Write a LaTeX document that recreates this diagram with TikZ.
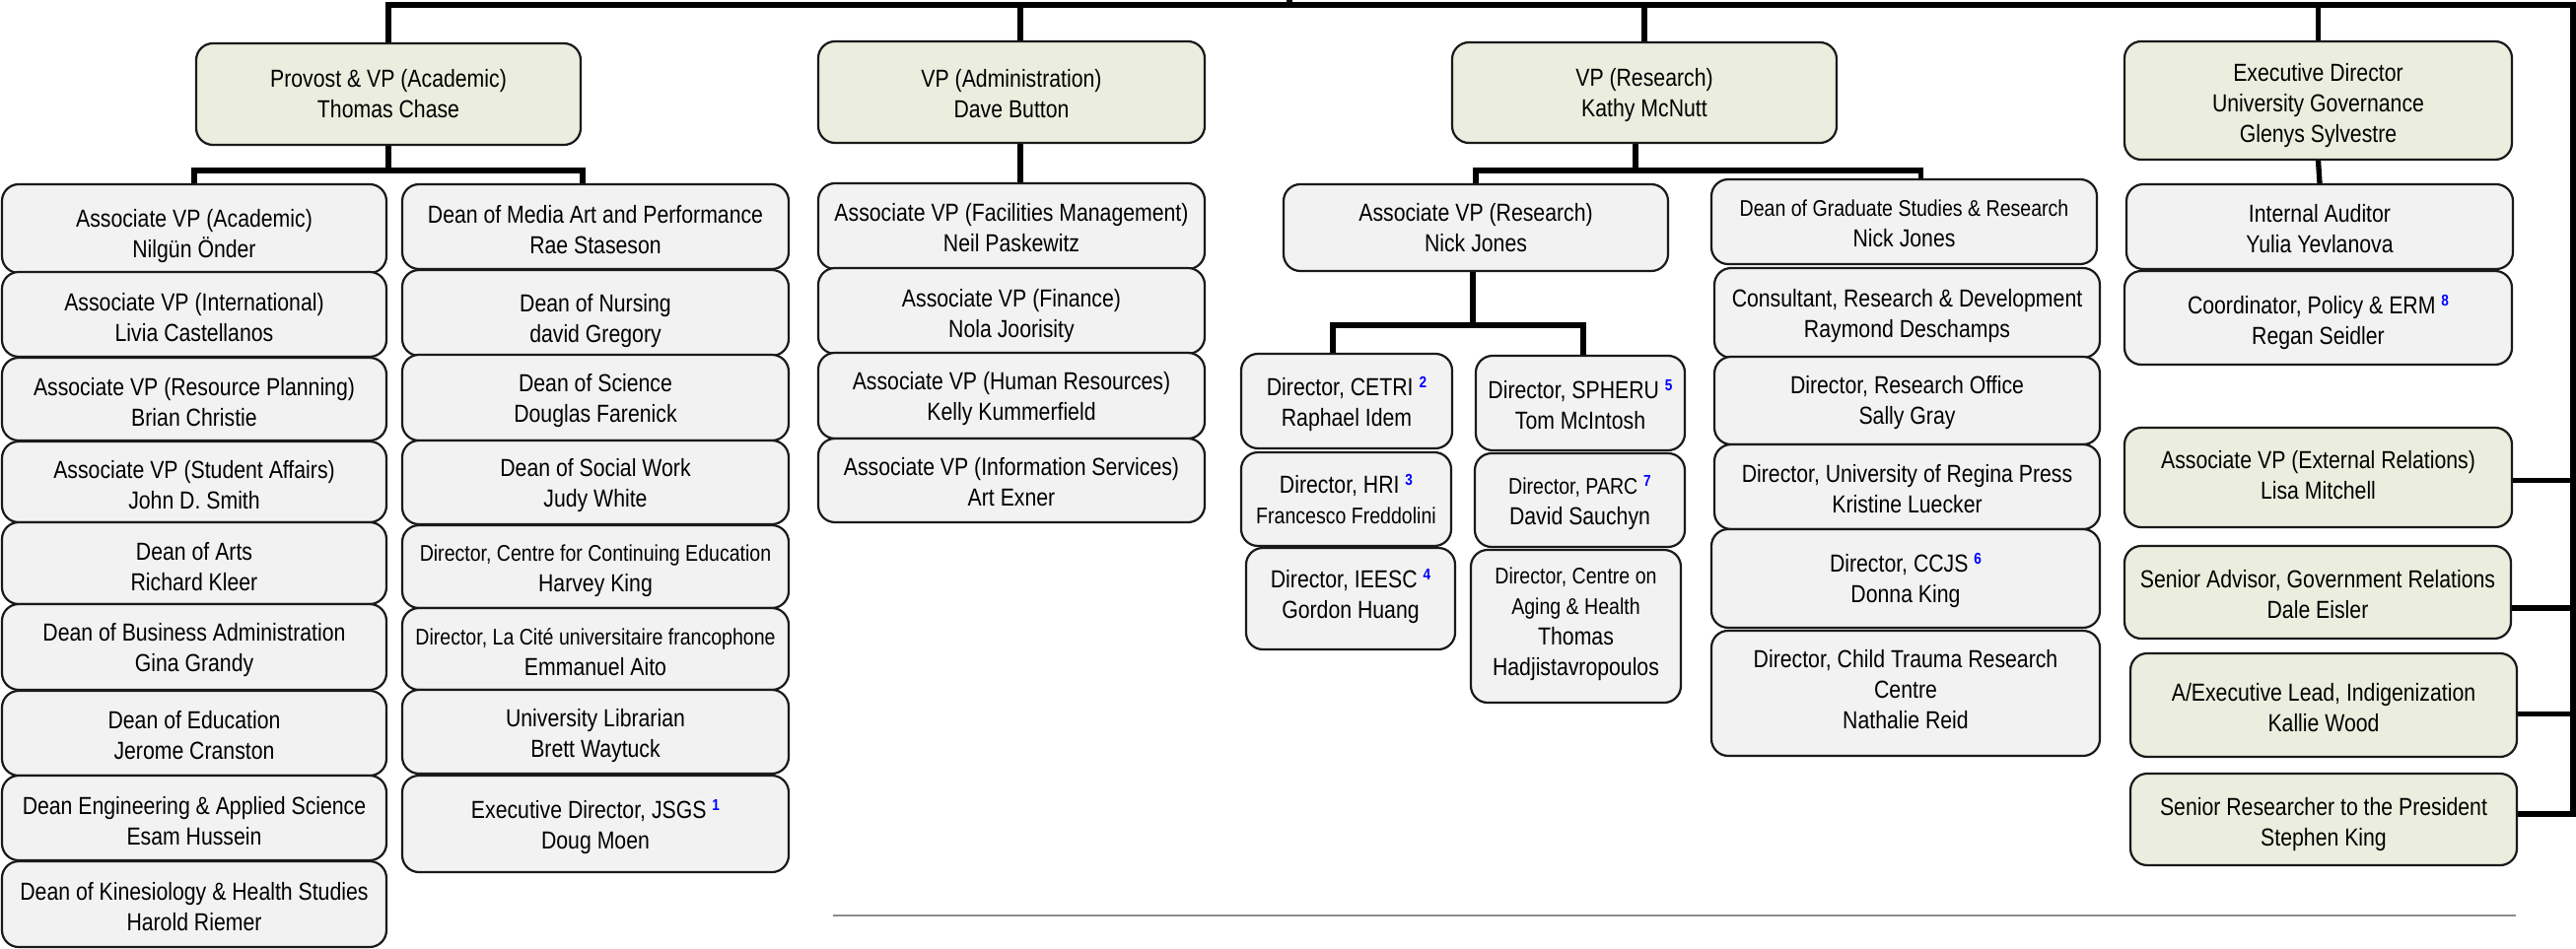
\documentclass[tikz,border=0pt]{standalone}
\usepackage{fontspec}
\setmainfont{Liberation Sans}[FakeStretch=0.85]
\usetikzlibrary{calc}
\definecolor{vpgreen}{HTML}{EBEEDE}
\definecolor{boxgray}{HTML}{F2F2F2}
\definecolor{fnblue}{HTML}{0000FF}
\definecolor{edgecol}{HTML}{1A1A1A}
\newcommand\fn[1]{\raisebox{8pt}{\fontsize{16}{16}\selectfont\bfseries\color{fnblue}#1}}
\newcommand\sm{\fontsize{23}{29}\selectfont}
% name, x1, y1, x2, y2, style, text shift down, text
\newcommand\orgbox[8]{%
  \pgfmathsetmacro\obw{#4-#2}%
  \pgfmathsetmacro\obh{#5-#3}%
  \pgfmathsetmacro\obx{(#2+#4)/2}%
  \pgfmathsetmacro\oby{(#3+#5)/2}%
  \node[#6, minimum width=\obw pt, minimum height=\obh pt] (#1) at (\obx,\oby) {};
  \node[boxtext] (#1-t) at ([yshift=-#7pt]#1.center) {#8};}
\begin{document}
\begin{tikzpicture}[x=1pt,y=-1pt,
  orgnode/.style={draw=edgecol, line width=2.2pt, rounded corners=17pt, inner sep=0pt},
  boxtext/.style={inner sep=0pt, align=center, font=\fontsize{25}{31}\selectfont, text=black},
  vpbox/.style={orgnode, fill=vpgreen},
  subbox/.style={orgnode, fill=boxgray},
  conn/.style={line width=5.3pt, draw=black},
  divider/.style={line width=1.5pt, draw=black!45}]
\useasboundingbox (0,0) rectangle (2613,963);

% top level
\orgbox{provost}{199}{44}{589}{147}{vpbox}{0}{Provost \& VP (Academic)\\Thomas Chase}
\orgbox{vpadmin}{830}{42}{1222}{145}{vpbox}{2}{VP (Administration)\\Dave Button}
\orgbox{vpres}{1473}{43}{1863}{145}{vpbox}{3}{VP (Research)\\Kathy McNutt}
\orgbox{execgov}{2155}{42}{2548}{162}{vpbox}{5}{Executive Director\\University Governance\\Glenys Sylvestre}

% column A
\orgbox{a1}{2}{187}{392}{277}{subbox}{8}{Associate VP (Academic)\\Nilgün Önder}
\orgbox{a2}{2}{276}{392}{362}{subbox}{3}{Associate VP (International)\\Livia Castellanos}
\orgbox{a3}{2}{363}{392}{447}{subbox}{3}{Associate VP (Resource Planning)\\Brian Christie}
\orgbox{a4}{2}{448}{392}{530}{subbox}{3}{Associate VP (Student Affairs)\\John D. Smith}
\orgbox{a5}{2}{530}{392}{613}{subbox}{4}{Dean of Arts\\Richard Kleer}
\orgbox{a6}{2}{613}{392}{700}{subbox}{3}{Dean of Business Administration\\Gina Grandy}
\orgbox{a7}{2}{701}{392}{787}{subbox}{2}{Dean of Education\\Jerome Cranston}
\orgbox{a8}{2}{787}{392}{873}{subbox}{3}{Dean Engineering \& Applied Science\\Esam Hussein}
\orgbox{a9}{2}{874}{392}{961}{subbox}{3}{Dean of Kinesiology \& Health Studies\\Harold Riemer}

% column B
\orgbox{b1}{408}{187}{800}{273}{subbox}{3}{Dean of Media Art and Performance\\Rae Staseson}
\orgbox{b2}{408}{274}{800}{361}{subbox}{8}{Dean of Nursing\\david Gregory}
\orgbox{b3}{408}{360}{800}{447}{subbox}{3}{Dean of Science\\Douglas Farenick}
\orgbox{b4}{408}{447}{800}{532}{subbox}{3}{Dean of Social Work\\Judy White}
\orgbox{b5}{408}{533}{800}{617}{subbox}{4}{{\sm Director, Centre for Continuing Education}\\Harvey King}
\orgbox{b6}{408}{617}{800}{700}{subbox}{3}{{\sm Director, La Cité universitaire francophone}\\Emmanuel Aito}
\orgbox{b7}{408}{700}{800}{785}{subbox}{4}{University Librarian\\Brett Waytuck}
\orgbox{b8}{408}{787}{800}{885}{subbox}{3}{Executive Director, JSGS \fn{1}\\Doug Moen}

% administration
\orgbox{c1}{830}{186}{1222}{273}{subbox}{2}{Associate VP (Facilities Management)\\Neil Paskewitz}
\orgbox{c2}{830}{272}{1222}{359}{subbox}{5}{Associate VP (Finance)\\Nola Joorisity}
\orgbox{c3}{830}{358}{1222}{445}{subbox}{3}{Associate VP (Human Resources)\\Kelly Kummerfield}
\orgbox{c4}{830}{445}{1222}{530}{subbox}{2}{Associate VP (Information Services)\\Art Exner}

% research
\orgbox{avpr}{1302}{187}{1692}{275}{subbox}{0}{Associate VP (Research)\\Nick Jones}
\orgbox{cetri}{1259}{359}{1473}{455}{subbox}{3}{Director, CETRI \fn{2}\\Raphael Idem}
\orgbox{hri}{1259}{459}{1472}{554}{subbox}{0}{Director, HRI \fn{3}\\{\sm Francesco Freddolini}}
\orgbox{ieesc}{1264}{556}{1476}{659}{subbox}{-2}{Director, IEESC \fn{4}\\Gordon Huang}
\orgbox{spheru}{1497}{361}{1709}{457}{subbox}{2}{Director, SPHERU \fn{5}\\Tom McIntosh}
\orgbox{parc}{1496}{460}{1709}{555}{subbox}{3}{{\sm Director, PARC} \fn{7}\\David Sauchyn}
\orgbox{aging}{1492}{558}{1705}{713}{subbox}{-2}{{\sm Director, Centre on}\\{\sm Aging \& Health}\\Thomas\\Hadjistavropoulos}
\orgbox{dgs}{1736}{182}{2127}{268}{subbox}{2}{{\sm Dean of Graduate Studies \& Research}\\Nick Jones}
\orgbox{cons}{1739}{272}{2130}{363}{subbox}{3}{Consultant, Research \& Development\\Raymond Deschamps}
\orgbox{ro}{1739}{362}{2130}{451}{subbox}{2}{Director, Research Office\\Sally Gray}
\orgbox{press}{1739}{451}{2130}{537}{subbox}{2}{Director, University of Regina Press\\Kristine Luecker}
\orgbox{ccjs}{1736}{537}{2130}{637}{subbox}{2}{Director, CCJS \fn{6}\\Donna King}
\orgbox{ctrc}{1736}{640}{2130}{767}{subbox}{-4}{Director, Child Trauma Research\\Centre\\Nathalie Reid}

% governance / president's office
\orgbox{audit}{2157}{187}{2549}{273}{subbox}{2}{Internal Auditor\\Yulia Yevlanova}
\orgbox{coord}{2155}{275}{2548}{370}{subbox}{5}{Coordinator, Policy \& ERM \fn{8}\\Regan Seidler}
\orgbox{lisa}{2155}{434}{2548}{535}{vpbox}{-2}{Associate VP (External Relations)\\Lisa Mitchell}
\orgbox{dale}{2155}{554}{2547}{648}{vpbox}{2}{Senior Advisor, Government Relations\\Dale Eisler}
\orgbox{kallie}{2161}{663}{2553}{768}{vpbox}{3}{A/Executive Lead, Indigenization\\Kallie Wood}
\orgbox{stephen}{2161}{785}{2553}{878}{vpbox}{5}{Senior Researcher to the President\\Stephen King}

% top bar and right spine
\coordinate (rtop) at (2610,5);
\coordinate (rbot) at (2610,826);
\coordinate (pres) at (1308,0);
\draw[conn] (provost.north) |- (rtop) -- (rbot) -- (rbot -| stephen.east);
\draw[conn] (pres) -- (pres |- rtop);
\coordinate (va) at ([xshift=9pt]vpadmin.north);
\draw[conn] (va) -- (va |- rtop);
\draw[conn] (vpres.north) -- (vpres.north |- rtop);
\draw[conn] (execgov.north) -- (execgov.north |- rtop);
\coordinate (le) at ([yshift=-3pt]lisa.east);
\draw[conn] (le) -- (le -| rtop);
\coordinate (de) at ([yshift=-16pt]dale.east);
\draw[conn] (de) -- (de -| rtop);
\coordinate (ke) at ([yshift=-9pt]kallie.east);
\draw[conn] (ke) -- (ke -| rtop);

% provost branch
\coordinate (pj) at (392,173);
\draw[conn] (provost.south) -- (provost.south |- pj);
\coordinate (bj) at ([xshift=-13pt]b1.north);
\draw[conn] (a1.north) |- (pj) -| (bj);

% administration branch
\coordinate (vs) at ([xshift=9pt]vpadmin.south);
\draw[conn] (vs) -- (vs |- c1.north);

% research branches
\coordinate (rj) at (1659,173);
\draw[conn] (vpres.south -| rj) -- (rj);
\coordinate (dj) at ([xshift=17pt]dgs.north);
\draw[conn] (avpr.north) |- (rj) -| (dj);
\coordinate (aj) at (1494,330);
\draw[conn] (avpr.south -| aj) -- (aj);
\coordinate (cj) at ([xshift=-14pt]cetri.north);
\coordinate (sj) at ([xshift=3pt]spheru.north);
\draw[conn] (cj) |- (aj) -| (sj);

% governance branch
\draw[conn] (execgov.south) -- (audit.north);

% divider
\coordinate (dl) at (845,929);
\coordinate (dr) at (2552,929);
\draw[divider] (dl) -- (dr);
\end{tikzpicture}
\end{document}
